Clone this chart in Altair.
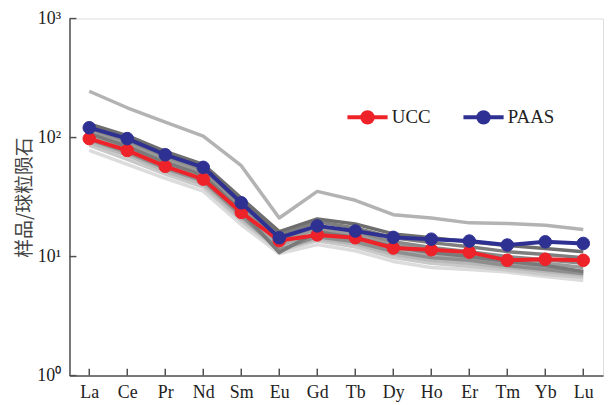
import altair as alt
import pandas as pd

ELEMENTS = ["La", "Ce", "Pr", "Nd", "Sm", "Eu", "Gd", "Tb", "Dy", "Ho", "Er", "Tm", "Yb", "Lu"]

UCC = [98, 77.9, 57.3, 44.7, 23.5, 13.6, 15.2, 14.4, 11.8, 11.4, 10.9, 9.3, 9.5, 9.3]
PAAS = [121, 98, 71.7, 56.2, 28.3, 14.4, 18.1, 16.4, 14.5, 14.0, 13.5, 12.5, 13.3, 12.9]

OUTLIER = [245, 178, 135, 103, 58, 21.1, 35.3, 29.7, 22.5, 21.1, 19.2, 19.0, 18.3, 16.9]

S1 = [130.5, 104, 76.5, 59.6, 31.0, 16.2, 20.7, 18.8, 15.5, 14.4, 13.3, 12.4, 11.7, 11.0]
S2 = [125.7, 100, 73.6, 57.3, 29.3, 15.2, 19.6, 17.4, 14.4, 13.1, 12.1, 11.0, 10.4, 9.8]
S3 = [118.8, 94.4, 69.5, 54.1, 27.1, 13.9, 18.1, 16.2, 13.3, 11.9, 11.0, 10.0, 9.4, 8.8]
S4 = [112, 89.1, 65.6, 51.1, 25.6, 13.1, 17.1, 15.2, 12.6, 11.2, 10.4, 9.4, 8.8, 8.1]
S5 = [108, 84.1, 61.9, 48.3, 24.2, 10.8, 16.2, 14.4, 12.1, 10.8, 10.0, 9.1, 8.4, 7.5]
S6 = [102, 79.4, 58.5, 45.5, 22.8, 12.4, 15.5, 13.9, 11.4, 10.4, 9.6, 8.8, 8.1, 7.5]
S7 = [96.2, 75.0, 55.2, 43.0, 22.0, 11.4, 14.7, 13.3, 11.0, 9.8, 9.3, 8.4, 7.8, 7.2]
S8 = [90.9, 70.8, 52.1, 40.6, 20.7, 11.7, 14.1, 12.8, 10.4, 9.3, 8.8, 8.1, 7.5, 7.0]
S9 = [85.8, 65.6, 49.2, 38.4, 19.9, 11.2, 13.6, 12.1, 9.8, 8.8, 8.3, 7.7, 7.1, 6.7]
S10 = [77.9, 59.6, 45.5, 35.5, 18.5, 10.6, 12.6, 11.2, 9.1, 8.1, 7.8, 7.4, 6.8, 6.3]

SAMPLES = {"S10": S10, "S9": S9, "S8": S8, "S6": S6, "S4": S4, "S7": S7,
           "S3": S3, "S5": S5, "S2": S2, "S1": S1, "OUT": OUTLIER}
SHADES = {"S10": "#dcdcdc", "S9": "#c9c9c9", "S8": "#b8b8b8", "S6": "#a8a8a8",
          "S4": "#9a9a9a", "S7": "#8e8e8e", "S3": "#8a8a8a", "S5": "#7a7a7a",
          "S2": "#7e7e7e", "S1": "#6e6e6e", "OUT": "#b3b3b3"}

Y_TICKS = [1, 10, 100, 1000]
SERIES = ["UCC", "PAAS"]
SERIES_COLORS = ["#ee2229", "#2e3192"]

rows = []
for name, vals in SAMPLES.items():
    for el, v in zip(ELEMENTS, vals):
        rows.append({"sample": name, "el": el, "v": v})
gray_df = pd.DataFrame(rows)

ref_rows = []
for name, vals in zip(SERIES, [UCC, PAAS]):
    for el, v in zip(ELEMENTS, vals):
        ref_rows.append({"series": name, "el": el, "v": v})
ref_df = pd.DataFrame(ref_rows)

W, H = 538, 360
SERIF = "Liberation Serif"
AX = "#505050"

xscale = alt.Scale(domain=ELEMENTS, type="point", padding=0.52)
yscale = alt.Scale(type="log", domain=[1, 1000], nice=False)

x_enc = alt.X("el:N", scale=xscale, sort=ELEMENTS,
              axis=alt.Axis(title=None, ticks=False, labelAngle=0, labelFont=SERIF,
                            labelFontSize=18, labelColor="#222", labelPadding=8,
                            domainColor=AX, domainWidth=1.5))
y_enc = alt.Y("v:Q", scale=yscale,
              axis=alt.Axis(title="样品/球粒陨石", titleFont="Noto Sans CJK SC",
                            titleFontSize=19, titleFontWeight="normal", titleColor="#444",
                            titlePadding=2, values=Y_TICKS, ticks=False, grid=False,
                            labelFont=SERIF, labelFontSize=18, labelColor="#222",
                            labelPadding=9, domainColor=AX, domainWidth=1.5,
                            labelExpr="'10' + (datum.value == 1 ? '⁰' : datum.value == 10 ? '¹' : datum.value == 100 ? '²' : '³')"))

gray = alt.Chart(gray_df).mark_line(strokeWidth=3.5, strokeJoin="round").encode(
    x=x_enc, y=y_enc,
    color=alt.Color("sample:N", scale=alt.Scale(domain=list(SHADES.keys()),
                                                range=list(SHADES.values())), legend=None),
)

legend_path = "M-1,0L1,0M0.26,0A0.26,0.26,0,1,1,-0.26,0A0.26,0.26,0,1,1,0.26,0Z"
cscale = alt.Scale(domain=SERIES, range=SERIES_COLORS)
leg = alt.Legend(title=None, orient="none", legendX=278, legendY=77, direction="horizontal",
                 symbolType=legend_path, symbolSize=1640, symbolStrokeWidth=4,
                 labelFont=SERIF, labelFontSize=19, labelColor="#222", labelOffset=2,
                 columnPadding=24)

ref_lines = alt.Chart(ref_df).mark_line(strokeWidth=4).encode(
    x=x_enc, y=y_enc,
    stroke=alt.Stroke("series:N", scale=cscale, sort=SERIES, legend=leg),
)
ref_points = alt.Chart(ref_df).mark_point(filled=True, size=160, opacity=1, strokeWidth=1).encode(
    x=x_enc, y=y_enc,
    fill=alt.Fill("series:N", scale=cscale, sort=SERIES, legend=leg),
    stroke=alt.Stroke("series:N", scale=cscale, sort=SERIES, legend=leg),
)

ucc_l = ref_lines.transform_filter(alt.datum.series == "UCC")
ucc_p = ref_points.transform_filter(alt.datum.series == "UCC")
paas_l = ref_lines.transform_filter(alt.datum.series == "PAAS")
paas_p = ref_points.transform_filter(alt.datum.series == "PAAS")

xt_df = pd.DataFrame({"el": ELEMENTS})
xticks = alt.Chart(xt_df).mark_rule(color=AX, strokeWidth=1.5).encode(
    x=alt.X("el:N", scale=xscale, sort=ELEMENTS), y=alt.value(H), y2=alt.value(H - 7))
yt_df = pd.DataFrame({"v": Y_TICKS})
yticks = alt.Chart(yt_df).mark_rule(color=AX, strokeWidth=1.5).encode(
    y=alt.Y("v:Q", scale=yscale), x=alt.value(0), x2=alt.value(7))

chart = alt.layer(gray, ucc_l, ucc_p, paas_l, paas_p, xticks, yticks).resolve_scale(
    color="independent"
).properties(
    width=W, height=H,
    padding={"left": 8, "top": 0, "right": 5, "bottom": 0},
).configure_view(stroke=AX, strokeWidth=1.5).configure_legend(
    labelFont=SERIF, labelFontSize=19
).configure(background="white", font=SERIF)

chart.save("out.html", embed_options={"renderer": "svg", "actions": False})
